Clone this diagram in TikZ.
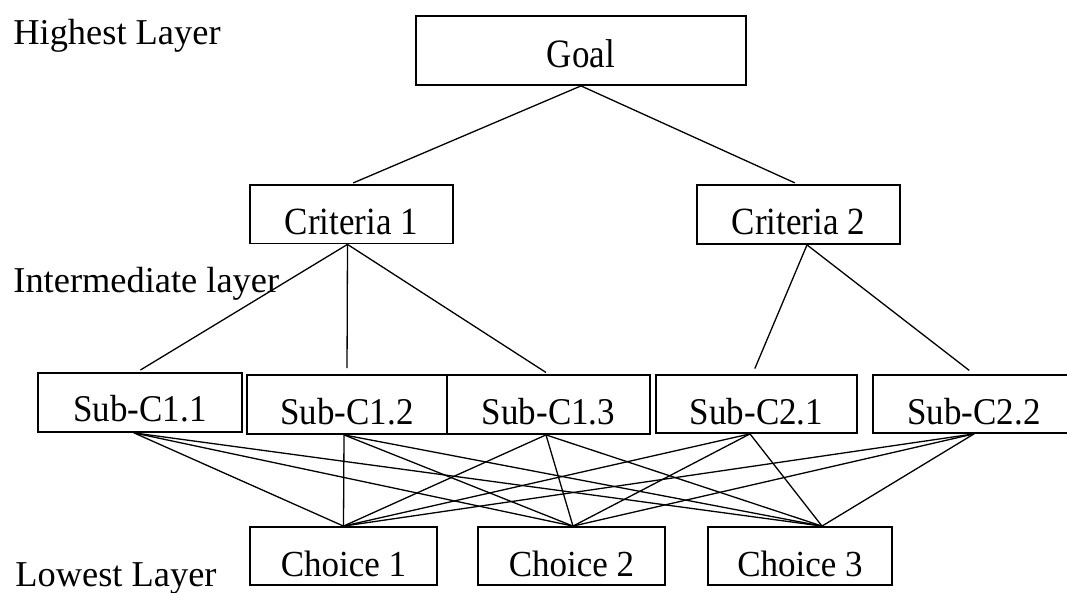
\documentclass[tikz,border=0pt]{standalone}
\usepackage{fontspec}
\setmainfont{Liberation Serif}
\usepackage{graphicx}
\begin{document}
\begin{tikzpicture}[x=0.5pt,y=-0.5pt,
  box/.style={draw, line width=0.9pt, rectangle, inner sep=0pt,
    text height=20.5pt, text depth=0pt,
    font=\fontsize{17.5}{21}\selectfont},
  lbl/.style={anchor=base west, inner sep=0pt,
    font=\fontsize{18.2}{22}\selectfont},
  link/.style={line width=0.65pt},
]
\useasboundingbox (0,0) rectangle (1067,593);
% layer labels
\node[lbl] (hl) at (13,45) {Highest Layer};
\node[lbl] (il) at (13,293) {Intermediate layer};
\node[lbl] (ll) at (15,587) {Lowest Layer};
% boxes
\node[box, minimum width=165pt, minimum height=34.5pt, text height=17pt] (goal) at (581,50.5) {\scalebox{1}[1.15]{Goal}};
\node[box, minimum width=101.5pt, minimum height=29.25pt] (c1) at (351.5,214.25) {\scalebox{1}[1.1]{Criteria 1}};
\node[box, minimum width=101.5pt, minimum height=29.5pt] (c2) at (798.5,214.5) {\scalebox{1}[1.1]{Criteria 2}};
\node[box, minimum width=102pt, minimum height=29.5pt, text height=19.2pt] (s11) at (140,402.5) {\scalebox{1}[1.08]{Sub-C1.1}};
\node[box, minimum width=100pt, minimum height=29.5pt] (s12) at (347,404.5) {\scalebox{1}[1.08]{Sub-C1.2}};
\node[box, minimum width=101.5pt, minimum height=29.5pt] (s13) at (548.5,404.5) {\scalebox{1}[1.08]{Sub-C1.3}};
\node[box, minimum width=100.5pt, minimum height=29pt, text height=21pt] (s21) at (756.5,404) {\scalebox{1}[1.08]{Sub-C2.1}};
\node[box, minimum width=101pt, minimum height=29pt, text height=21pt] (s22) at (974,404) {\scalebox{1}[1.08]{Sub-C2.2}};
\node[box, minimum width=93.5pt, minimum height=29pt, text height=20pt] (ch1) at (343.5,556) {\scalebox{1}[1.05]{Choice 1}};
\node[box, minimum width=93.5pt, minimum height=29pt, text height=20pt] (ch2) at (571.5,556) {\scalebox{1}[1.05]{Choice 2}};
\node[box, minimum width=92pt, minimum height=29pt, text height=20pt] (ch3) at (800,556) {\scalebox{1}[1.05]{Choice 3}};
% goal to criteria
\draw[link, shorten >=1.5pt] (goal.south) -- ([xshift=-0.5pt]c1.north);
\draw[link, shorten >=1.5pt] (goal.south) -- ([xshift=-0.5pt]c2.north);
% criteria to sub-criteria
\draw[link, shorten >=2pt] ([xshift=-2pt]c1.south) -- ([xshift=-1.5pt]s11.north);
\draw[link, shorten >=3pt] ([xshift=-2pt]c1.south) -- (s12.north);
\draw[link, shorten >=1.5pt] ([xshift=-2pt]c1.south) -- (s13.north);
\draw[link, shorten >=3pt] ([xshift=4.25pt]c2.south) -- ([xshift=-2pt]s21.north);
\draw[link, shorten >=3pt] ([xshift=4.25pt]c2.south) -- (s22.north);
% sub-criteria to choices
\foreach \s/\dx in {s11/-3pt, s12/-1.5pt, s13/-1.25pt, s21/-3.25pt, s22/0pt}{
  \draw[link] ([xshift=\dx]\s.south) -- (ch1.north);
  \draw[link] ([xshift=\dx]\s.south) -- ([xshift=0.75pt]ch2.north);
  \draw[link] ([xshift=\dx]\s.south) -- ([xshift=11pt]ch3.north);
}
\end{tikzpicture}
\end{document}
